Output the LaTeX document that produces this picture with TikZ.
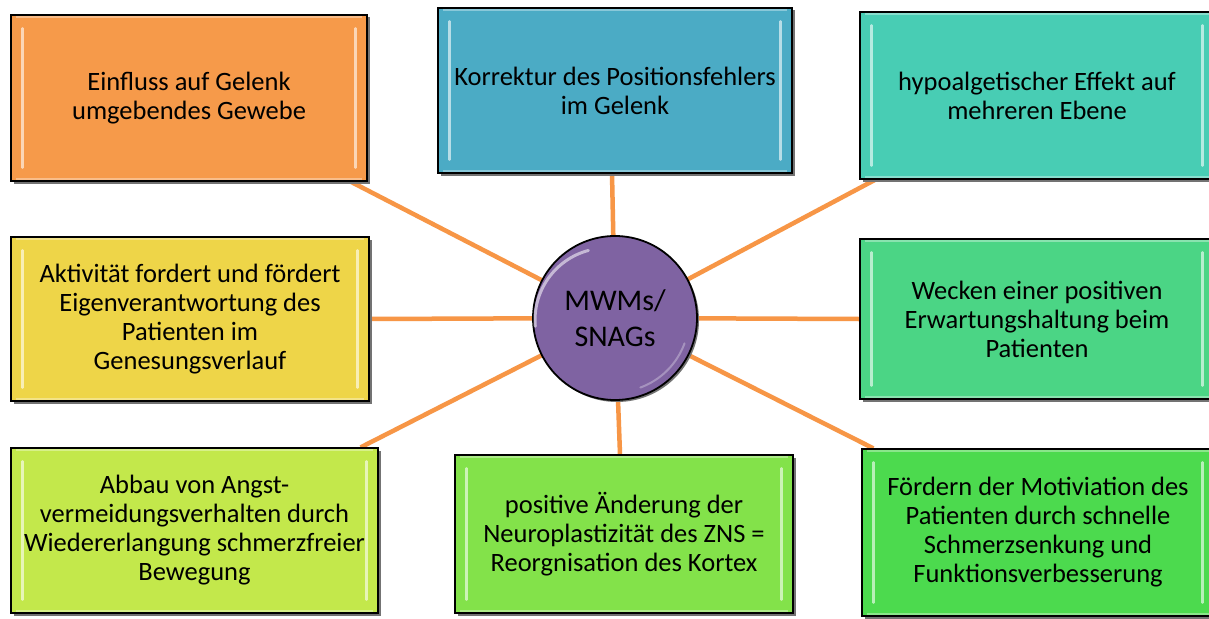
\documentclass[tikz,border=0pt]{standalone}
\usepackage{fontspec}
\setmainfont{Carlito}
\usetikzlibrary{shadows}
\pgfdeclarelayer{bg}
\pgfsetlayers{bg,main}
\definecolor{cOrange}{HTML}{F69A4A}
\definecolor{cBlue}{HTML}{4BABC5}
\definecolor{cTeal}{HTML}{48CDB4}
\definecolor{cYellow}{HTML}{EED548}
\definecolor{cMint}{HTML}{4BD585}
\definecolor{cLime}{HTML}{C3E84B}
\definecolor{cGreen}{HTML}{83E24A}
\definecolor{cGreenB}{HTML}{4CDA4E}
\definecolor{cPurple}{HTML}{7F63A2}
\definecolor{cLine}{HTML}{F79646}
\tikzset{
  panel/.style={draw=black, line width=1.3pt, align=center, inner sep=0pt,
    font=\fontsize{26.5}{29}\selectfont,
    drop shadow={shadow xshift=2.5pt, shadow yshift=-2.5pt, fill=black!55, opacity=1}},
  bev/.style={white, opacity=0.6, line width=2.5pt, line cap=round},
  bevtop/.style={white, opacity=0.35, line width=2pt},
  conn/.style={cLine, line width=4.5pt},
  hub/.style={circle, draw=black, line width=1.8pt, fill=cPurple, inner sep=0pt,
    minimum size=164pt, align=center, font=\fontsize{30}{36}\selectfont,
    drop shadow={shadow xshift=2pt, shadow yshift=-2pt, fill=black!55, opacity=1}}
}
\newcommand\bevelbox[1]{%
  \draw[bev] ([shift={(12pt,-14pt)}]#1.north west) -- ([shift={(12pt,14pt)}]#1.south west);
  \draw[bev] ([shift={(-12pt,-14pt)}]#1.north east) -- ([shift={(-12pt,14pt)}]#1.south east);
  \draw[bevtop] ([shift={(6pt,-3pt)}]#1.north west) -- ([shift={(-6pt,-3pt)}]#1.north east);
  \draw[bevtop] ([shift={(6pt,3pt)}]#1.south west) -- ([shift={(-6pt,3pt)}]#1.south east);
}
\begin{document}
\begin{tikzpicture}[x=1pt,y=-1pt]
\useasboundingbox (0,0) rectangle (1209,618);
\begin{pgfonlayer}{bg}
\fill[white] (0,0) rectangle (1209,618);
\end{pgfonlayer}

\node[panel, fill=cOrange, minimum width=356pt, minimum height=166pt] (b1) at (189,98)
  {Einfluss auf Gelenk\\umgebendes Gewebe};
\node[panel, fill=cBlue, minimum width=354pt, minimum height=165pt] (b2) at (615,90.5)
  {Korrektur des Positionsfehlers\\im Gelenk};
\node[panel, fill=cTeal, minimum width=354pt, minimum height=167pt] (b3) at (1037,95.5)
  {hypoalgetischer Effekt auf\\mehreren Ebene};
\node[panel, fill=cYellow, minimum width=358pt, minimum height=164pt] (b4) at (190,319)
  {Aktivität fordert und fördert\\Eigenverantwortung des\\Patienten im\\Genesungsverlauf};
\node[panel, fill=cMint, minimum width=354pt, minimum height=160pt] (b5) at (1037,319)
  {Wecken einer positiven\\Erwartungshaltung beim\\Patienten};
\node[panel, fill=cLime, minimum width=367pt, minimum height=165pt] (b6) at (194.5,530.5)
  {Abbau von Angst-\\vermeidungsverhalten durch\\Wiedererlangung schmerzfreier\\Bewegung};
\node[panel, fill=cGreen, minimum width=338pt, minimum height=158pt] (b7) at (624,534)
  {positive Änderung der\\Neuroplastizität des ZNS =\\Reorgnisation des Kortex};
\node[panel, fill=cGreenB, minimum width=352pt, minimum height=167pt] (b8) at (1038,532.5)
  {Fördern der Motiviation des\\Patienten durch schnelle\\Schmerzsenkung und\\Funktionsverbesserung};

\foreach \b in {b1,b2,b3,b4,b5,b6,b7,b8} {\bevelbox{\b}}

\node[hub] (c) at (615,318) {MWMs/\\SNAGs};
\draw[white, opacity=0.55, line width=3pt, line cap=round] ([shift={(-8pt,-2pt)}]c.center)
  ++(105:72pt) arc[start angle=105, end angle=185, radius=72pt];
\draw[white, opacity=0.3, line width=2pt, line cap=round] (c.center) ++(-20:74pt)
  arc[start angle=-20, end angle=-70, radius=74pt];

\begin{pgfonlayer}{bg}
  \draw[conn] (c.center) -- ([xshift=-17pt]b1.south east);
  \draw[conn] (c.center) -- ([xshift=-3pt]b2.south);
  \draw[conn] (c.center) -- ([xshift=16pt]b3.south west);
  \draw[conn] (c.center) -- (b4.east);
  \draw[conn] (c.center) -- (b5.west);
  \draw[conn] (c.center) -- ([xshift=-18pt]b6.north east);
  \draw[conn] (c.center) -- ([xshift=-4pt]b7.north);
  \draw[conn] (c.center) -- ([xshift=12pt]b8.north west);
\end{pgfonlayer}
\end{tikzpicture}
\end{document}
